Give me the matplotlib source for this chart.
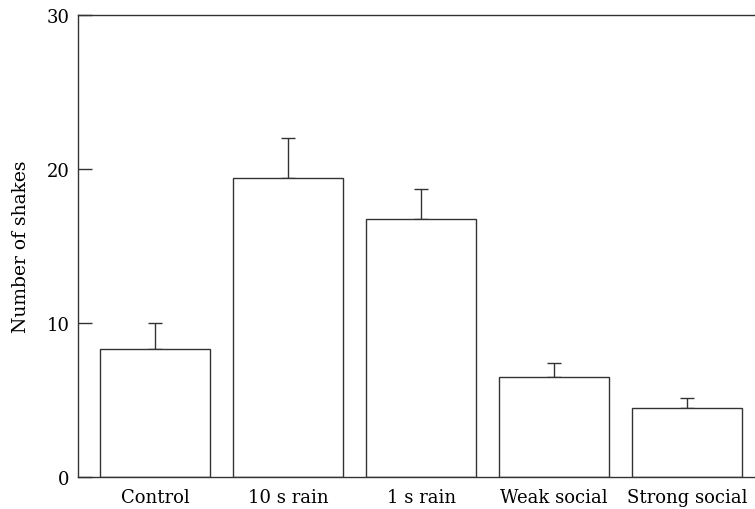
import numpy as np
import matplotlib
matplotlib.use('Agg')
import matplotlib.pyplot as plt

categories = ['Control', '10 s rain', '1 s rain', 'Weak social', 'Strong social']
means = [8.3, 19.4, 16.75, 6.5, 4.5]
errors = [1.7, 2.6, 1.95, 0.9, 0.65]
yticks = [0, 10, 20, 30]

plt.rcParams['font.family'] = 'DejaVu Serif'

fig = plt.figure(figsize=(7.55, 5.1), dpi=100)
ax = fig.add_axes([0.1033, 0.0627, 0.8967, 0.9059])

x = np.arange(len(categories))
low = np.zeros(len(errors))
ax.bar(x, means, width=0.827, color='white', edgecolor='#333333', linewidth=1.0, zorder=2)
ax.errorbar(x, means, yerr=[low, errors], fmt='none', ecolor='#333333',
            elinewidth=1.0, capsize=5, capthick=1.0, zorder=1)

ax.set_xlim(-0.58, 4.51)
ax.set_ylim(0, 30)
ax.set_yticks(yticks)
ax.set_xticks(x)
ax.set_xticklabels(categories, fontsize=13)
ax.tick_params(axis='x', length=0, pad=8)
ax.tick_params(axis='y', direction='in', length=10, width=1.0, color='#333333',
               labelsize=13, pad=6)
ax.set_ylabel('Number of shakes', fontsize=13.5, labelpad=12)

ax.spines['right'].set_visible(False)
for s in ['left', 'top', 'bottom']:
    ax.spines[s].set_color('#333333')
    ax.spines[s].set_linewidth(1.0)

fig.savefig('out.png', dpi=100)
